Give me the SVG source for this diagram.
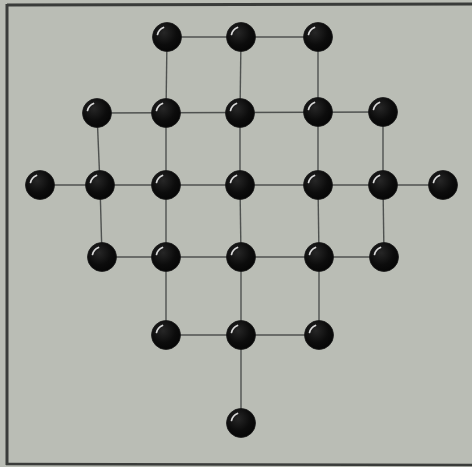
<svg xmlns="http://www.w3.org/2000/svg" width="472" height="467" viewBox="0 0 472 467">
<defs>
<radialGradient id="ball" cx="0.4" cy="0.35" r="0.7">
<stop offset="0" stop-color="#262626"/>
<stop offset="0.6" stop-color="#0c0c0c"/>
<stop offset="1" stop-color="#050505"/>
</radialGradient>
<g id="peg">
<circle r="14.5" fill="url(#ball)" stroke="#1a1a1a" stroke-width="0.8"/>
<path d="M -9.5 -2.5 A 10 10 0 0 1 -3.5 -9.5" fill="none" stroke="#d8d8d8" stroke-width="1.7" stroke-linecap="round"/>
</g>
</defs>
<style>
.ln{stroke:#4f5250;stroke-width:1.4;fill:none}
.frame{stroke:#3a3c3a;fill:none}
</style>
<rect width="472" height="467" fill="#babdb5"/>
<g id="frame">
<line class="frame" x1="7" y1="5" x2="472" y2="4" stroke-width="3"/>
<line class="frame" x1="7" y1="4" x2="7" y2="465" stroke-width="3"/>
<line class="frame" x1="6" y1="464" x2="472" y2="465" stroke-width="2.5"/>
</g>
<g id="connectors" class="ln">
<line x1="167" y1="37" x2="318" y2="37"/>
<line x1="167" y1="37" x2="166" y2="113"/>
<line x1="241" y1="37" x2="240" y2="113"/>
<line x1="318" y1="37" x2="318" y2="113"/>
<line x1="97" y1="113" x2="383" y2="112"/>
<line x1="97" y1="113" x2="100" y2="185"/>
<line x1="166" y1="113" x2="166" y2="185"/>
<line x1="240" y1="113" x2="240" y2="185"/>
<line x1="318" y1="113" x2="318" y2="185"/>
<line x1="383" y1="112" x2="383" y2="185"/>
<line x1="40" y1="185" x2="443" y2="185"/>
<line x1="100" y1="185" x2="102" y2="257"/>
<line x1="166" y1="185" x2="166" y2="257"/>
<line x1="240" y1="185" x2="241" y2="257"/>
<line x1="318" y1="185" x2="319" y2="257"/>
<line x1="383" y1="185" x2="384" y2="257"/>
<line x1="102" y1="257" x2="384" y2="257"/>
<line x1="166" y1="257" x2="166" y2="335"/>
<line x1="241" y1="257" x2="241" y2="335"/>
<line x1="319" y1="257" x2="319" y2="335"/>
<line x1="166" y1="335" x2="319" y2="335"/>
<line x1="241" y1="335" x2="241" y2="423"/>
</g>
<g id="n1"><use href="#peg" x="167" y="37"/></g>
<g id="n2"><use href="#peg" x="241" y="37"/></g>
<g id="n3"><use href="#peg" x="318" y="37"/></g>
<g id="n4"><use href="#peg" x="97" y="113"/></g>
<g id="n5"><use href="#peg" x="166" y="113"/></g>
<g id="n6"><use href="#peg" x="240" y="113"/></g>
<g id="n7"><use href="#peg" x="318" y="112"/></g>
<g id="n8"><use href="#peg" x="383" y="112"/></g>
<g id="n9"><use href="#peg" x="40" y="185"/></g>
<g id="n10"><use href="#peg" x="100" y="185"/></g>
<g id="n11"><use href="#peg" x="166" y="185"/></g>
<g id="n12"><use href="#peg" x="240" y="185"/></g>
<g id="n13"><use href="#peg" x="318" y="185"/></g>
<g id="n14"><use href="#peg" x="383" y="185"/></g>
<g id="n15"><use href="#peg" x="443" y="185"/></g>
<g id="n16"><use href="#peg" x="102" y="257"/></g>
<g id="n17"><use href="#peg" x="166" y="257"/></g>
<g id="n18"><use href="#peg" x="241" y="257"/></g>
<g id="n19"><use href="#peg" x="319" y="257"/></g>
<g id="n20"><use href="#peg" x="384" y="257"/></g>
<g id="n21"><use href="#peg" x="166" y="335"/></g>
<g id="n22"><use href="#peg" x="241" y="335"/></g>
<g id="n23"><use href="#peg" x="319" y="335"/></g>
<g id="n24"><use href="#peg" x="241" y="423"/></g>
</svg>
